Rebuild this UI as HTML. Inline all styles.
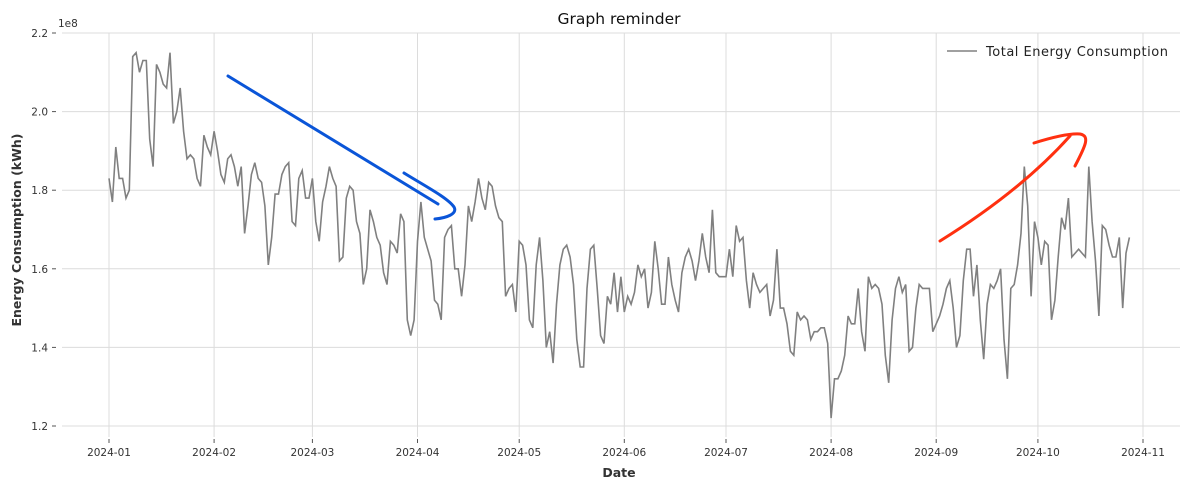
<!DOCTYPE html>
<html><head><meta charset="utf-8"><style>
body{margin:0;background:#fff;}
svg text{font-family:"DejaVu Sans","Liberation Sans",sans-serif;}
</style></head><body>
<svg id="chart" width="1189" height="490" xmlns="http://www.w3.org/2000/svg">
<rect width="1189" height="490" fill="#fff"/>
<g id="grid"></g>
<g id="ticks"></g>
<path id="series" fill="none" stroke="#808080" stroke-width="1.6"/>
<text x="619" y="24" font-size="15.5" text-anchor="middle" fill="#111">Graph reminder</text>
<text x="58" y="27" font-size="10.5" fill="#333">1e8</text>
<text x="619" y="477" font-size="12.5" font-weight="bold" text-anchor="middle" fill="#333">Date</text>
<text transform="translate(21,230) rotate(-90)" font-size="12.5" font-weight="bold" text-anchor="middle" fill="#333">Energy Consumption (kWh)</text>
<g>
<line x1="947" y1="51" x2="977" y2="51" stroke="#808080" stroke-width="1.6"/>
<text x="986" y="56" font-size="13" textLength="182" fill="#222">Total Energy Consumption</text>
</g>
<path d="M228,76 L438,204 M404,173 C425,186 448,198 454,207 C458,214 446,218 435,219" fill="none" stroke="#0a55d8" stroke-width="3" stroke-linecap="round"/>
<path d="M940,241 C990,210 1035,175 1070,136 M1034,143 C1050,138 1068,133 1080,134 C1090,136 1086,145 1075,166" fill="none" stroke="#ff3010" stroke-width="3" stroke-linecap="round"/>
</svg>
<script>
const values = [1.83,1.77,1.91,1.83,1.83,1.78,1.80,2.14,2.15,2.10,2.13,2.13,1.93,1.86,2.12,2.10,2.07,2.06,2.15,1.97,2.00,2.06,1.95,1.88,1.89,1.88,1.83,1.81,1.94,1.91,1.89,1.95,
1.90,1.84,1.82,1.88,1.89,1.86,1.81,1.86,1.69,1.76,1.84,1.87,1.83,1.82,1.76,1.61,1.68,1.79,1.79,1.84,1.86,1.87,1.72,1.71,1.83,1.85,1.78,1.78,1.83,
1.72,1.67,1.77,1.81,1.86,1.83,1.81,1.62,1.63,1.78,1.81,1.80,1.72,1.69,1.56,1.60,1.75,1.72,1.68,1.66,1.59,1.56,1.67,1.66,1.64,1.74,1.72,1.47,1.43,1.47,1.67,
1.77,1.68,1.65,1.62,1.52,1.51,1.47,1.68,1.70,1.71,1.60,1.60,1.53,1.61,1.76,1.72,1.77,1.83,1.78,1.75,1.82,1.81,1.76,1.73,1.72,1.53,1.55,1.56,1.49,1.67,
1.66,1.61,1.47,1.45,1.61,1.68,1.57,1.40,1.44,1.36,1.51,1.61,1.65,1.66,1.63,1.56,1.42,1.35,1.35,1.55,1.65,1.66,1.55,1.43,1.41,1.53,1.51,1.59,1.49,1.58,1.49,
1.53,1.51,1.54,1.61,1.58,1.60,1.50,1.54,1.67,1.60,1.51,1.51,1.63,1.56,1.52,1.49,1.59,1.63,1.65,1.62,1.57,1.62,1.69,1.63,1.59,1.75,1.59,1.58,1.58,
1.58,1.65,1.58,1.71,1.67,1.68,1.57,1.50,1.59,1.56,1.54,1.55,1.56,1.48,1.52,1.65,1.50,1.50,1.46,1.39,1.38,1.49,1.47,1.48,1.47,1.42,1.44,1.44,1.45,1.45,1.41,
1.22,1.32,1.32,1.34,1.38,1.48,1.46,1.46,1.55,1.44,1.39,1.58,1.55,1.56,1.55,1.51,1.38,1.31,1.47,1.55,1.58,1.54,1.56,1.39,1.40,1.50,1.56,1.55,1.55,1.55,1.44,
1.46,1.48,1.51,1.55,1.57,1.50,1.40,1.43,1.57,1.65,1.65,1.53,1.61,1.47,1.37,1.51,1.56,1.55,1.57,1.60,1.42,1.32,1.55,1.56,1.61,1.69,1.86,1.76,1.53,1.72,
1.68,1.61,1.67,1.66,1.47,1.52,1.63,1.73,1.70,1.78,1.63,1.64,1.65,1.64,1.63,1.86,1.72,1.62,1.48,1.71,1.70,1.66,1.63,1.63,1.68,1.50,1.64,1.68];
const yTicks = [1.2,1.4,1.6,1.8,2.0,2.2];
const xTickLabels = ["2024-01","2024-02","2024-03","2024-04","2024-05","2024-06","2024-07","2024-08","2024-09","2024-10","2024-11"];
const xTickDays = [0,31,60,91,121,152,182,213,244,274,305];
const NS="http://www.w3.org/2000/svg";
const xs = d => 109 + d*(1143-109)/305;
const ys = v => 426 - (v-1.2)*(426-33)/1.0;
const grid=document.getElementById('grid'), ticks=document.getElementById('ticks');
function mk(tag,attrs,parent){const e=document.createElementNS(NS,tag);for(const k in attrs)e.setAttribute(k,attrs[k]);parent.appendChild(e);return e;}
yTicks.forEach(v=>{
  const l=mk('line',{x1:62,x2:1180,y1:ys(v),y2:ys(v),stroke:'#dcdcdc','stroke-width':1},grid);
  
  
  const t=mk('text',{x:48,y:ys(v)+4,'font-size':10.5,'text-anchor':'end',fill:'#333'},ticks);
  t.textContent=v.toFixed(1);
  
  
  mk('line',{x1:52,x2:56,y1:ys(v),y2:ys(v),stroke:'#555'},ticks);
});
xTickDays.forEach((d,i)=>{
  const l=mk('line',{x1:xs(d),x2:xs(d),y1:33,y2:437,stroke:'#dcdcdc','stroke-width':1},grid);
  
  
  mk('line',{x1:xs(d),x2:xs(d),y1:439,y2:443,stroke:'#555'},ticks);
  const t=mk('text',{x:xs(d),y:456,'font-size':10.5,'text-anchor':'middle',fill:'#333'},ticks);
  t.textContent=xTickLabels[i];
  
  
});
document.getElementById('series').setAttribute('d',values.map((v,i)=>(i?'L':'M')+xs(i).toFixed(1)+','+ys(v).toFixed(1)).join(' '));
</script>
</body></html>
